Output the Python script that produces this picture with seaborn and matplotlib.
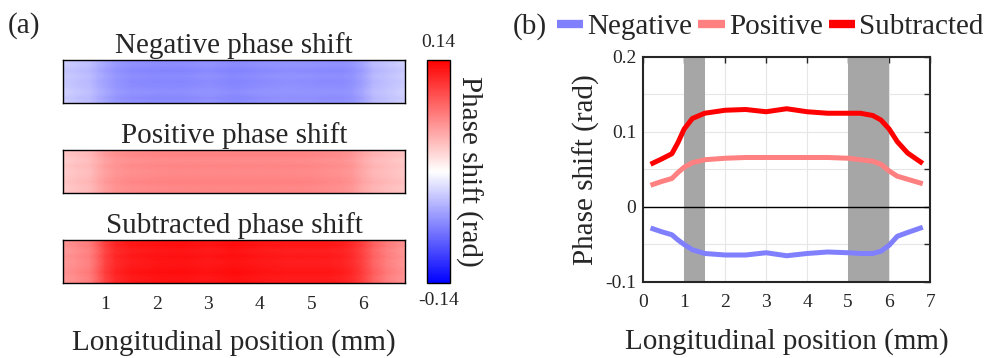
"""Two-panel phase shift figure: (a) maps along the sample, (b) mean profiles."""
import matplotlib
matplotlib.use("Agg")
import matplotlib.pyplot as plt
import numpy as np
import pandas as pd
import seaborn as sns
from matplotlib.lines import Line2D

# longitudinal position (mm) and mean phase-shift profiles (rad)
position = [0.18, 0.45, 0.7, 0.85, 1.0, 1.2, 1.5, 2.0, 2.5, 3.0, 3.5,
            4.0, 4.5, 5.0, 5.3, 5.6, 5.8, 6.0, 6.2, 6.45, 6.82]
negative = [-0.028, -0.033, -0.037, -0.044, -0.050, -0.057, -0.062, -0.064,
            -0.064, -0.061, -0.065, -0.062, -0.060, -0.061, -0.062, -0.062,
            -0.059, -0.051, -0.039, -0.034, -0.027]
positive = [0.029, 0.034, 0.038, 0.046, 0.053, 0.059, 0.063, 0.065, 0.066,
            0.066, 0.066, 0.066, 0.066, 0.065, 0.063, 0.061, 0.057, 0.048,
            0.041, 0.037, 0.031]
subtracted = [0.057, 0.064, 0.071, 0.086, 0.104, 0.118, 0.125, 0.129, 0.130,
              0.127, 0.131, 0.127, 0.125, 0.125, 0.125, 0.122, 0.116, 0.104,
              0.087, 0.072, 0.058]
# small row-to-row variation across the width of the maps (rad)
row_offset = [0.002, -0.001, 0.003, 0.000, -0.002, 0.001, -0.003, 0.002, 0.000]
# grey marked regions (mm)
bands = [(1.0, 1.5), (5.0, 6.0)]

series_names = ["Negative", "Positive", "Subtracted"]
map_titles = ["Negative phase shift", "Positive phase shift", "Subtracted phase shift"]
colors = {"Negative": "#8080ff", "Positive": "#ff8080", "Subtracted": "#ff0000"}
clim = 0.14

sns.set_theme(style="white")
plt.rcParams["font.family"] = ["Liberation Serif", "DejaVu Serif"]
plt.rcParams["axes.unicode_minus"] = False
FS_BIG = 21
FS_TICK = 14

fig = plt.figure(figsize=(9.91, 3.58), dpi=100)

# ---- (a) maps
profiles = [negative, positive, subtracted]
map_boxes = [0.712, 0.461, 0.209]
mesh = None
for i, (prof, title, y0) in enumerate(zip(profiles, map_titles, map_boxes)):
    ax = fig.add_axes([0.0636, y0, 0.345, 0.121])
    z = np.add.outer(np.array(row_offset), np.array(prof))
    mesh = ax.pcolormesh(position, np.arange(len(row_offset)), z,
                         shading="gouraud", cmap="bwr", vmin=-clim, vmax=clim)
    ax.set_xlim(position[0], position[-1])
    ax.set_ylim(0, len(row_offset) - 1)
    ax.set_yticks([])
    ax.set_xticks(range(1, 7))
    ax.tick_params(axis="x", direction="in", top=True, bottom=True, length=4,
                   width=1, color="black", labelbottom=(i == 2),
                   labelsize=FS_TICK, pad=9)
    for sp in ax.spines.values():
        sp.set_color("black")
        sp.set_linewidth(1)
    ax.set_title(title, fontsize=FS_BIG, pad=5)
    if i == 2:
        ax.set_xlabel("Longitudinal position (mm)", fontsize=FS_BIG, labelpad=12)

cax = fig.add_axes([0.431, 0.209, 0.0232, 0.624])
cb = fig.colorbar(mesh, cax=cax, ticks=[])
cb.outline.set_linewidth(1)
cb.outline.set_edgecolor("black")
cax.text(0.5, 1.04, f"{clim:.2f}", transform=cax.transAxes, ha="center",
         va="bottom", fontsize=FS_TICK)
cax.text(0.5, -0.04, f"-{clim:.2f}", transform=cax.transAxes, ha="center",
         va="top", fontsize=FS_TICK)
fig.text(0.473, 0.52, "Phase shift (rad)", rotation=-90, ha="center",
         va="center", fontsize=FS_BIG)
fig.text(0.008, 0.93, "(a)", fontsize=FS_BIG, va="center")

# ---- (b) profiles
df = pd.DataFrame({
    "position": position * 3,
    "phase": negative + positive + subtracted,
    "series": np.repeat(series_names, len(position)),
})
axb = fig.add_axes([0.649, 0.2123, 0.2896, 0.6285])
for lo, hi in bands:
    axb.axvspan(lo, hi, color="#a6a6a6", lw=0, zorder=1)
axb.axhline(0, color="black", lw=1, zorder=1.5)
sns.lineplot(data=df, x="position", y="phase", hue="series",
             palette=colors, hue_order=series_names, linewidth=3.6,
             legend=False, ax=axb, zorder=3, solid_joinstyle="round",
             solid_capstyle="butt")
axb.set_xlim(0, 7)
axb.set_ylim(-0.1, 0.2)
axb.set_xticks(range(0, 8))
yt = np.round(np.arange(-0.1, 0.2001, 0.05), 2)
axb.set_yticks(yt)
axb.set_yticklabels(["-0.1", "", "0", "", "0.1", "", "0.2"])
axb.grid(True, color="#e6e6e6", lw=0.8, zorder=0)
axb.set_axisbelow(True)
axb.tick_params(direction="in", top=True, right=True, length=4, width=1,
                color="#262626", labelsize=FS_TICK)
axb.tick_params(axis="x", pad=9)
axb.tick_params(axis="y", pad=5)
for sp in axb.spines.values():
    sp.set_color("#262626")
    sp.set_linewidth(1.5)
axb.set_xlabel("Longitudinal position (mm)", fontsize=FS_BIG, labelpad=12)
axb.set_ylabel("Phase shift (rad)", fontsize=FS_BIG, labelpad=4)

handles = [Line2D([], [], color=colors[s], lw=6, solid_capstyle="butt")
           for s in series_names]
fig.legend(handles, series_names, loc="center left", bbox_to_anchor=(0.562, 0.925),
           ncol=3, frameon=False, fontsize=FS_BIG, handlelength=0.9,
           handletextpad=0.15, columnspacing=0.2, borderaxespad=0, borderpad=0)
fig.text(0.517, 0.925, "(b)", fontsize=FS_BIG, va="center")

fig.savefig("out.png", dpi=100)
